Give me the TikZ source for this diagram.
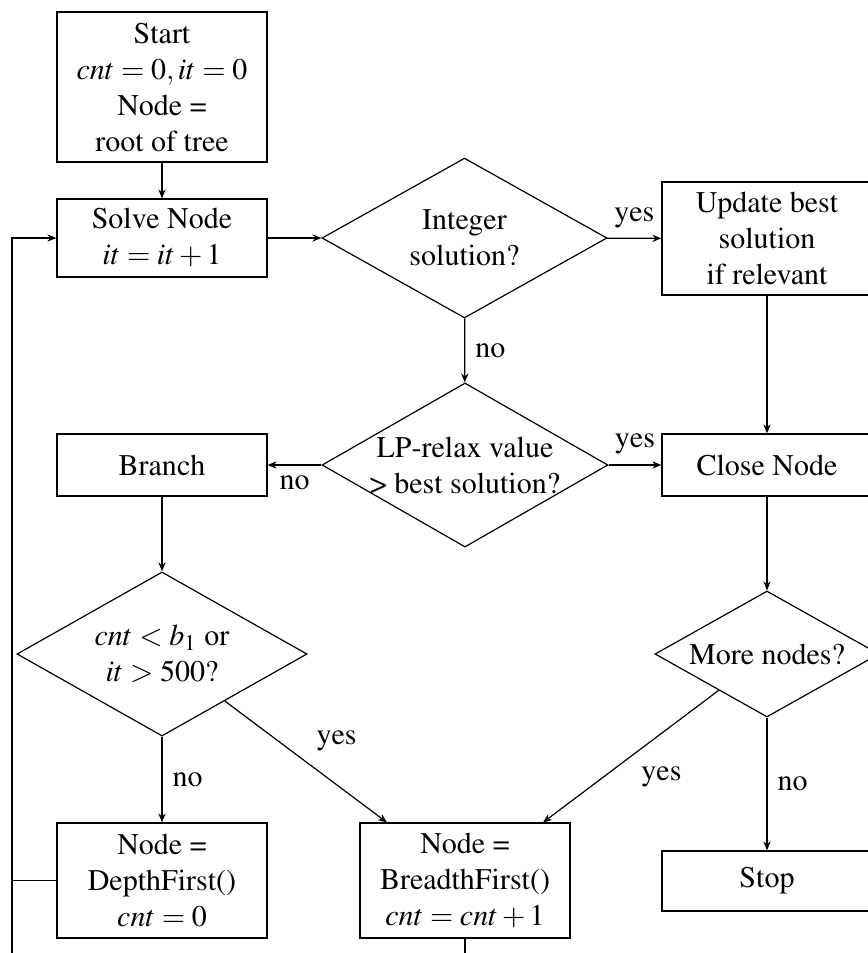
\documentclass[tikz,border=0pt]{standalone}
\usepackage[T1]{fontenc}
\usepackage{mathptmx}
\usetikzlibrary{arrows.meta,shapes.geometric,calc,positioning}

\begin{document}
\begin{tikzpicture}[x=0.3333pt,y=-0.3333pt,
  block/.style={draw,align=center,inner sep=2pt,minimum width=70pt},
  decide/.style={draw,diamond,inner sep=0pt},
  >={Stealth[length=3pt,width=2.4pt]}]
 \useasboundingbox (0,0) rectangle (868,953);
 \clip (0,0) rectangle (868,953);
 % boxes
 \node[block,minimum height=50pt] (start) at (162,87) {Start\\$cnt=0, it=0$\\Node =\\root of tree};
 \node[block,minimum height=26pt] (solve) at (162,238) {Solve Node\\$it=it+1$};
 \node[block,minimum height=37.7pt] (update) at (767,238.5) {Update best\\solution\\if relevant};
 \node[block,minimum height=20.7pt] (branch) at (162,465) {Branch};
 \node[block,minimum height=20.7pt] (close) at (767,465) {Close Node};
 \node[block,minimum height=38.3pt] (depth) at (162,880.5) {Node =\\DepthFirst()\\$cnt=0$};
 \node[block,minimum height=38.3pt] (bf) at (465,880.5) {Node =\\BreadthFirst()\\$cnt=cnt+1$};
 \node[block,minimum height=20pt] (stop) at (767,881) {Stop};
 % decisions
 \node[decide,minimum width=95pt,minimum height=53.3pt,
   label={[align=center]center:Integer\\solution?}] (intq) at (464.5,238) {};
 \node[decide,minimum width=95.3pt,minimum height=54.7pt,
   label={[align=center]center:LP-relax value\\\textgreater{} best solution?}] (lp) at (465,465) {};
 \node[decide,minimum width=96.7pt,minimum height=54.7pt,
   label={[align=center]center:$cnt<b_1$ or\\$it>500$?}] (cnt) at (162,654) {};
 \node[decide,minimum width=74.7pt,minimum height=42pt,
   label={center:More nodes?}] (more) at (767,654) {};
 % connectors
 \draw[->] (start) -- (solve);
 \draw[->] (solve) -- (intq);
 \draw[->] (intq) -- node[above] {yes} (update);
 \draw[->] (intq) -- node[right] {no} (lp);
 \draw[->] (update) -- (close);
 \draw[->] (lp) -- node[below] {no} (branch);
 \draw[->] (lp) -- node[above] {yes} (close);
 \draw[->] (branch) -- (cnt);
 \draw[->] (close) -- (more);
 \draw[->] (cnt) -- node[right] {no} (depth);
 \draw[->] (cnt) -- node[above right] {yes} ([xshift=-26pt]bf.north);
 \draw[->] (more) -- node[below right] {yes} ([xshift=26pt]bf.north);
 \draw[->] (more) -- node[right] {no} (stop);
 % loop back
 \coordinate (loopEnd) at (12,953);
 \draw[->] (loopEnd) |- (solve.west);
 \draw (depth.west) -- (depth.west -| loopEnd);
 \draw (bf.south) -- (bf.south |- loopEnd);
\end{tikzpicture}
\end{document}
